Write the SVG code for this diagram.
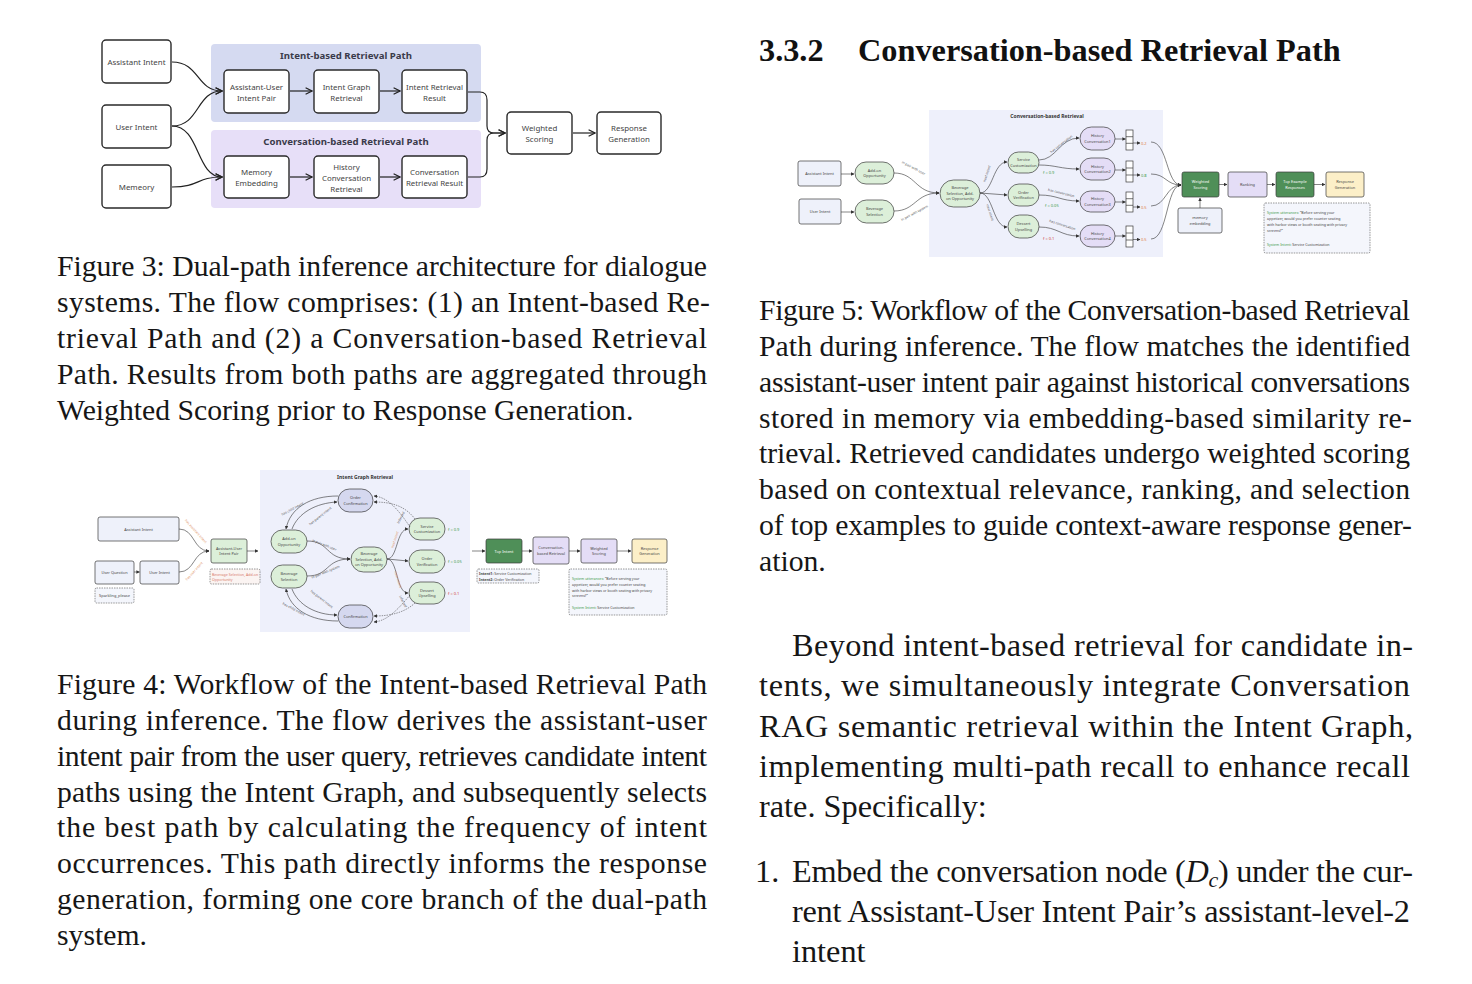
<svg xmlns="http://www.w3.org/2000/svg" width="1472" height="984" viewBox="0 0 1472 984">
<defs>
<style>
.cap{font-family:"Liberation Serif","Times New Roman",serif;font-size:29.7px;fill:#161616}
.body{font-family:"Liberation Serif","Times New Roman",serif;font-size:32.3px;fill:#161616}
.hd{font-family:"Liberation Serif","Times New Roman",serif;font-size:32.3px;font-weight:bold;fill:#111}
.b3{fill:#fff;stroke:#2a2a2a;stroke-width:1.4}
.t3{font-family:"Noto Sans","Open Sans",sans-serif;font-size:7.9px;fill:#444;text-anchor:middle}
.h3{font-family:"Noto Sans","Open Sans",sans-serif;font-size:9.6px;font-weight:bold;fill:#3a3a4a;text-anchor:middle}
.c3{fill:none;stroke:#222;stroke-width:1.2}
.nd{stroke:#3a3a3a;stroke-width:0.7}
.t4{font-family:"Noto Sans","Open Sans",sans-serif;font-size:3.9px;fill:#444;text-anchor:middle}
.tw{font-family:"Noto Sans","Open Sans",sans-serif;font-size:3.9px;fill:#fff;text-anchor:middle}
.h4{font-family:"Noto Sans","Open Sans",sans-serif;font-size:5px;font-weight:bold;fill:#333;text-anchor:middle}
.lb{font-family:"Noto Sans","Open Sans",sans-serif;font-size:3.4px;fill:#555;text-anchor:middle}
.ol{font-family:"Noto Sans","Open Sans",sans-serif;font-size:3.4px;fill:#e09060;text-anchor:middle}
.s4{font-family:"Noto Sans","Open Sans",sans-serif;font-size:3.6px;fill:#444}
.c4{fill:none;stroke:#333;stroke-width:0.6}
.d4{fill:none;stroke:#333;stroke-width:0.5;stroke-dasharray:1.5 1}
.grn{fill:#dcefd9}
.lav{fill:#e4ddf6}
.dgr{fill:#4f8f58}
.crm{fill:#fcefc8}
.lbl{fill:#eef1fa}
.blu{fill:#d5d8ef}
.fg{font-family:"Noto Sans","Open Sans",sans-serif;font-size:4px;fill:#3c9a4a}
.fr{font-family:"Noto Sans","Open Sans",sans-serif;font-size:4px;fill:#d04040}
.fo{font-family:"Noto Sans","Open Sans",sans-serif;font-size:4px;fill:#e07a3a}
</style>
<marker id="a3" viewBox="0 0 10 10" refX="9" refY="5" markerWidth="8" markerHeight="8" orient="auto" markerUnits="userSpaceOnUse"><path d="M1,1 L9,5 L1,9" fill="none" stroke="#222" stroke-width="1.5"/></marker>
<marker id="a4" viewBox="0 0 10 10" refX="9" refY="5" markerWidth="3.5" markerHeight="3.5" orient="auto" markerUnits="userSpaceOnUse"><path d="M0,0 L10,5 L0,10 z" fill="#333"/></marker>
</defs>
<rect width="1472" height="984" fill="#fff"/>

<!-- ================= FIGURE 3 ================= -->
<g id="fig3">
<g id="f3-panel-intent"><rect x="211" y="44" width="270" height="78" rx="4" fill="#d5daf1"/><text class="h3" x="346" y="58.5">Intent-based Retrieval Path</text></g>
<g id="f3-panel-conv"><rect x="211" y="130" width="270" height="78" rx="4" fill="#e7dff8"/><text class="h3" x="346" y="145">Conversation-based Retrieval Path</text></g>
<g id="f3-assistant"><rect class="b3" x="102" y="40" width="69" height="43" rx="4"/><text class="t3" x="136.5" y="64.5">Assistant Intent</text></g>
<g id="f3-user"><rect class="b3" x="102" y="105" width="69" height="43" rx="4"/><text class="t3" x="136.5" y="129.5">User Intent</text></g>
<g id="f3-memory"><rect class="b3" x="102" y="165" width="69" height="43" rx="4"/><text class="t3" x="136.5" y="189.5">Memeory</text></g>
<g id="f3-pair"><rect class="b3" x="224" y="70" width="65" height="43" rx="4"/><text class="t3" x="256.5" y="90">Assistant-User</text><text class="t3" x="256.5" y="100.5">Intent Pair</text></g>
<g id="f3-igr"><rect class="b3" x="314" y="70" width="65" height="43" rx="4"/><text class="t3" x="346.5" y="90">Intent Graph</text><text class="t3" x="346.5" y="100.5">Retrieval</text></g>
<g id="f3-irr"><rect class="b3" x="402" y="70" width="65" height="43" rx="4"/><text class="t3" x="434.5" y="90">Intent Retrieval</text><text class="t3" x="434.5" y="100.5">Result</text></g>
<g id="f3-me"><rect class="b3" x="224" y="156" width="65" height="42" rx="4"/><text class="t3" x="256.5" y="175">Memory</text><text class="t3" x="256.5" y="186">Embedding</text></g>
<g id="f3-hcr"><rect class="b3" x="314" y="156" width="65" height="42" rx="4"/><text class="t3" x="346.5" y="169.5">History</text><text class="t3" x="346.5" y="180.5">Conversation</text><text class="t3" x="346.5" y="191.5">Retrieval</text></g>
<g id="f3-crr"><rect class="b3" x="402" y="156" width="65" height="42" rx="4"/><text class="t3" x="434.5" y="175">Conversation</text><text class="t3" x="434.5" y="186">Retrieval Result</text></g>
<g id="f3-ws"><rect class="b3" x="507" y="112" width="65" height="42" rx="4"/><text class="t3" x="539.5" y="131">Weighted</text><text class="t3" x="539.5" y="142">Scoring</text></g>
<g id="f3-rg"><rect class="b3" x="597" y="112" width="64" height="42" rx="4"/><text class="t3" x="629" y="131">Response</text><text class="t3" x="629" y="142">Generation</text></g>
<g id="f3-connectors">
<path class="c3" marker-end="url(#a3)" d="M172,62 C200,62 196,91 222,91"/>
<path class="c3" marker-end="url(#a3)" d="M172,126 C200,126 196,91 222,91"/>
<path class="c3" marker-end="url(#a3)" d="M172,126 C200,126 196,177 222,177"/>
<path class="c3" marker-end="url(#a3)" d="M172,187 C200,187 196,177 222,177"/>
<path class="c3" marker-end="url(#a3)" d="M290,91 L312,91"/>
<path class="c3" marker-end="url(#a3)" d="M380,91 L400,91"/>
<path class="c3" marker-end="url(#a3)" d="M290,177 L312,177"/>
<path class="c3" marker-end="url(#a3)" d="M380,177 L400,177"/>
<path class="c3" marker-end="url(#a3)" d="M468,92 L480,92 Q487,92 487,100 L487,126 Q487,133 494,133 L505,133"/>
<path class="c3" marker-end="url(#a3)" d="M468,177 L480,177 Q487,177 487,169 L487,140 Q487,133 494,133 L505,133"/>
<path class="c3" marker-end="url(#a3)" d="M573,133 L595,133"/>
</g>
</g>

<!-- ================= FIGURE 4 ================= -->
<g id="fig4">
<g id="f4-panel"><rect x="260" y="470" width="210" height="162" fill="#eef0fb"/><text class="h4" x="365" y="479">Intent Graph Retrieval</text></g>
<g id="f4-ai"><rect class="nd lbl" x="98" y="517" width="81" height="24" rx="2"/><text class="t4" x="138.5" y="530.5">Assistant Intent</text></g>
<g id="f4-uq"><rect class="nd lbl" x="95" y="561" width="39" height="23" rx="2"/><text class="t4" x="114.5" y="574">User Question</text></g>
<g id="f4-ui"><rect class="nd lbl" x="140" y="561" width="39" height="23" rx="2"/><text class="t4" x="159.5" y="574">User Intent</text></g>
<g id="f4-sp"><rect class="d4" x="95" y="588" width="39" height="15" rx="1.5" style="fill:#f4f6fc"/><text class="t4" x="114.5" y="597">Sparkling_please</text></g>
<g id="f4-pair"><rect class="nd grn" x="211" y="539" width="36" height="24" rx="2"/><text class="t4" x="229" y="549.5">Assistant-User</text><text class="t4" x="229" y="555">Intent Pair</text></g>
<g id="f4-cand"><rect class="d4" x="210" y="569" width="50" height="15" rx="1.5" style="fill:#fbf4f2"/><text class="s4" x="212" y="575.5" style="fill:#d87a6a">Beverage Selection, Add-on</text><text class="s4" x="212" y="580.5" style="fill:#d87a6a">Opportunity</text></g>
<g id="f4-oc"><rect class="nd blu" x="338" y="489" width="35" height="23" rx="11.5"/><text class="t4" x="355.5" y="499">Order</text><text class="t4" x="355.5" y="504.5">Confirmation</text></g>
<g id="f4-conf"><rect class="nd blu" x="338" y="605" width="35" height="23" rx="11.5"/><text class="t4" x="355.5" y="617.5">Confirmation</text></g>
<g id="f4-ao"><rect class="nd grn" x="271" y="530" width="36" height="23" rx="11.5"/><text class="t4" x="289" y="540">Add-on</text><text class="t4" x="289" y="545.5">Opportunity</text></g>
<g id="f4-bs"><rect class="nd grn" x="271" y="565" width="36" height="23" rx="11.5"/><text class="t4" x="289" y="575">Beverage</text><text class="t4" x="289" y="580.5">Selection</text></g>
<g id="f4-center"><rect class="nd grn" x="351" y="547" width="36" height="25" rx="12.5"/><text class="t4" x="369" y="555">Beverage</text><text class="t4" x="369" y="560.5">Selection, Add-</text><text class="t4" x="369" y="566">on Opportunity</text></g>
<g id="f4-sc"><rect class="nd grn" x="409" y="518" width="36" height="22" rx="11"/><text class="t4" x="427" y="527.5">Service</text><text class="t4" x="427" y="533">Customization</text></g>
<g id="f4-ov"><rect class="nd grn" x="409" y="550" width="36" height="23" rx="11.5"/><text class="t4" x="427" y="560">Order</text><text class="t4" x="427" y="565.5">Verification</text></g>
<g id="f4-du"><rect class="nd grn" x="409" y="582" width="36" height="22" rx="11"/><text class="t4" x="427" y="591.5">Dessert</text><text class="t4" x="427" y="597">Upselling</text></g>
<text class="fg" x="448" y="531">f = 0.9</text>
<text class="fg" x="448" y="563">f = 0.05</text>
<text class="fr" x="448" y="595">f = 0.1</text>
<g id="f4-top"><rect class="nd dgr" x="486" y="539" width="36" height="24" rx="2"/><text class="tw" x="504" y="552.5">Top Intent</text></g>
<g id="f4-cbr"><rect class="nd lav" x="533" y="537" width="36" height="27" rx="2"/><text class="t4" x="551" y="549">Conversation-</text><text class="t4" x="551" y="554.5">based Retrieval</text></g>
<g id="f4-ws"><rect class="nd lav" x="581" y="539" width="36" height="24" rx="2"/><text class="t4" x="599" y="549.5">Weighted</text><text class="t4" x="599" y="555">Scoring</text></g>
<g id="f4-rg"><rect class="nd crm" x="632" y="539" width="35" height="24" rx="2"/><text class="t4" x="649.5" y="549.5">Response</text><text class="t4" x="649.5" y="555">Generation</text></g>
<g id="f4-intents"><rect class="d4" x="477" y="569" width="62" height="14" rx="1.5" style="fill:#f4f6fc"/><text class="s4" x="479" y="575"><tspan font-weight="bold">Intent1:</tspan> Service Customization</text><text class="s4" x="479" y="580.5"><tspan font-weight="bold">Intent2:</tspan> Order Verification</text></g>
<g id="f4-utt"><rect class="d4" x="569" y="569" width="98" height="46" rx="1.5" style="fill:#f4f6fc"/>
<text class="s4" x="572" y="580"><tspan fill="#3c9a4a">System utterances:</tspan>  “Before serving your</text>
<text class="s4" x="572" y="586">appetizer, would you prefer counter seating</text>
<text class="s4" x="572" y="591.5">with harbor views or booth seating with privacy</text>
<text class="s4" x="572" y="597">screens?”</text>
<text class="s4" x="572" y="609"><tspan fill="#3c9a4a">System  Intent:</tspan>  Service Customization</text></g>
<g id="f4-connectors">
<path class="c4" marker-end="url(#a4)" d="M179,529 C195,529 193,551 209,551"/>
<path class="c4" marker-end="url(#a4)" d="M179,572 C195,572 193,551 209,551"/>
<path class="c4" marker-end="url(#a4)" d="M134,572 L139.5,572"/>
<path class="c4" marker-end="url(#a4)" d="M247,551 L258,551"/>
<path class="c4" marker-end="url(#a4)" d="M307,541 C330,541 325,559 350,559"/>
<path class="c4" marker-end="url(#a4)" d="M307,576 C330,576 325,559 350,559"/>
<path class="c4" marker-end="url(#a4)" d="M387,559 C398,559 396,529 408,529"/>
<path class="c4" marker-end="url(#a4)" d="M387,559 L408,561"/>
<path class="c4" marker-end="url(#a4)" d="M387,559 C398,559 396,593 408,593"/>
<path class="c4" marker-end="url(#a4)" d="M338,496 C310,496 290,508 286,529"/>
<path class="c4" marker-end="url(#a4)" d="M292,529 C298,513 316,503 337,502"/>
<path class="c4" marker-end="url(#a4)" d="M338,621 C310,621 290,609 286,589"/>
<path class="c4" marker-end="url(#a4)" d="M292,589 C298,605 316,615 337,615"/>
<path class="d4" marker-end="url(#a4)" d="M410,527 C396,506 386,497 374,496"/>
<path class="d4" marker-end="url(#a4)" d="M415,519 C405,506 392,502 374,502"/>
<path class="d4" marker-end="url(#a4)" d="M410,595 C396,612 386,621 374,622"/>
<path class="d4" marker-end="url(#a4)" d="M415,603 C405,612 392,616 374,616"/>
<path class="c4" marker-end="url(#a4)" d="M472,551 L485,551"/>
<path class="c4" marker-end="url(#a4)" d="M522,551 L532,551"/>
<path class="c4" marker-end="url(#a4)" d="M569,551 L580,551"/>
<path class="c4" marker-end="url(#a4)" d="M617,551 L631,551"/>
<text class="ol" transform="translate(195,532) rotate(48)">has assistant intent</text>
<text class="ol" transform="translate(195,572) rotate(-48)">has user intent</text>
<text class="lb" transform="translate(324,546) rotate(22)">in pair with user</text>
<text class="lb" transform="translate(326,573) rotate(-22)">in pair with system</text>
<text class="ol" transform="translate(396,540) rotate(-72)">next intent</text>
<text class="ol" transform="translate(397,580) rotate(72)">next intent</text>
<text class="lb" transform="translate(293,510) rotate(-28)">has child intent</text>
<text class="lb" transform="translate(321,517) rotate(-38)">has parent intent</text>
<text class="lb" transform="translate(293,610) rotate(28)">has child intent</text>
<text class="lb" transform="translate(321,600) rotate(38)">has parent intent</text>
<text class="lb" transform="translate(402,518) rotate(-62)">inferred</text>
<text class="lb" transform="translate(402,602) rotate(62)">inferred</text>
</g>
</g>

<!-- ================= FIGURE 5 ================= -->
<g id="fig5">
<g id="f5-panel"><rect x="929" y="110" width="234" height="147" fill="#eef0fb"/><text class="h4" x="1047" y="118">Conversation-based Retrieval</text></g>
<g id="f5-ai"><rect class="nd lbl" x="798" y="161" width="43" height="25" rx="2"/><text class="t4" x="819.5" y="175">Assistant Intent</text></g>
<g id="f5-ui"><rect class="nd lbl" x="799" y="199" width="42" height="25" rx="2"/><text class="t4" x="820" y="213">User Intent</text></g>
<g id="f5-ao"><rect class="nd grn" x="855" y="162" width="39" height="22" rx="11"/><text class="t4" x="874.5" y="171.5">Add-on</text><text class="t4" x="874.5" y="177">Opportunity</text></g>
<g id="f5-bs"><rect class="nd grn" x="855" y="200" width="39" height="23" rx="11.5"/><text class="t4" x="874.5" y="210">Beverage</text><text class="t4" x="874.5" y="215.5">Selection</text></g>
<g id="f5-center"><rect class="nd grn" x="940" y="180" width="40" height="27" rx="13.5"/><text class="t4" x="960" y="189">Beverage</text><text class="t4" x="960" y="194.5">Selection, Add-</text><text class="t4" x="960" y="200">on Opportunity</text></g>
<g id="f5-sc"><rect class="nd grn" x="1008" y="152" width="31" height="21" rx="10.5"/><text class="t4" x="1023.5" y="161">Service</text><text class="t4" x="1023.5" y="166.5">Customization</text></g>
<g id="f5-ov"><rect class="nd grn" x="1008" y="184" width="31" height="22" rx="11"/><text class="t4" x="1023.5" y="193.5">Order</text><text class="t4" x="1023.5" y="199">Verification</text></g>
<g id="f5-du"><rect class="nd grn" x="1008" y="215" width="31" height="23" rx="11.5"/><text class="t4" x="1023.5" y="225">Dessert</text><text class="t4" x="1023.5" y="230.5">Upselling</text></g>
<text class="fg" x="1043" y="173.5">f = 0.9</text>
<text class="fg" x="1045" y="206.5">f = 0.05</text>
<text class="fr" x="1043" y="240">f = 0.1</text>
<g id="f5-hc1"><rect class="nd lav" x="1080" y="127" width="35" height="23" rx="11.5"/><text class="t4" x="1097.5" y="137">History</text><text class="t4" x="1097.5" y="142.5">Conversation1</text></g>
<g id="f5-hc2"><rect class="nd lav" x="1080" y="158" width="35" height="22" rx="11"/><text class="t4" x="1097.5" y="167.5">History</text><text class="t4" x="1097.5" y="173">Conversation2</text></g>
<g id="f5-hc3"><rect class="nd lav" x="1080" y="191" width="35" height="21" rx="10.5"/><text class="t4" x="1097.5" y="200">History</text><text class="t4" x="1097.5" y="205.5">Conversation3</text></g>
<g id="f5-hc4"><rect class="nd lav" x="1080" y="225" width="35" height="22" rx="11"/><text class="t4" x="1097.5" y="234.5">History</text><text class="t4" x="1097.5" y="240">Conversation4</text></g>
<g id="f5-vec1"><rect x="1126" y="130" width="7" height="20" fill="#fff" class="nd"/><path class="nd" d="M1126,136.7 H1133 M1126,143.3 H1133" fill="none"/></g>
<g id="f5-vec2"><rect x="1126" y="161" width="7" height="21" fill="#fff" class="nd"/><path class="nd" d="M1126,168 H1133 M1126,175 H1133" fill="none"/></g>
<g id="f5-vec3"><rect x="1126" y="192" width="7" height="20" fill="#fff" class="nd"/><path class="nd" d="M1126,198.7 H1133 M1126,205.3 H1133" fill="none"/></g>
<g id="f5-vec4"><rect x="1126" y="226" width="7" height="21" fill="#fff" class="nd"/><path class="nd" d="M1126,233 H1133 M1126,240 H1133" fill="none"/></g>
<text class="fo" x="1141" y="144.5">0.2</text>
<text class="fg" x="1141" y="176.5">0.8</text>
<text class="fo" x="1141" y="208.5">0.5</text>
<text class="fo" x="1141" y="241">0.5</text>
<g id="f5-ws"><rect class="nd dgr" x="1182" y="172" width="37" height="25" rx="2"/><text class="tw" x="1200.5" y="183">Weighted</text><text class="tw" x="1200.5" y="188.5">Scoring</text></g>
<g id="f5-rank"><rect class="nd lav" x="1228" y="172" width="39" height="25" rx="2"/><text class="t4" x="1247.5" y="186">Ranking</text></g>
<g id="f5-top"><rect class="nd dgr" x="1276" y="172" width="38" height="25" rx="2"/><text class="tw" x="1295" y="183">Top  Example</text><text class="tw" x="1295" y="188.5">Responses</text></g>
<g id="f5-rg"><rect class="nd crm" x="1326" y="172" width="38" height="25" rx="2"/><text class="t4" x="1345" y="183">Response</text><text class="t4" x="1345" y="188.5">Generation</text></g>
<g id="f5-mem"><rect class="nd lbl" x="1178" y="208" width="44" height="25" rx="2"/><text class="t4" x="1200" y="219">memory</text><text class="t4" x="1200" y="224.5">embedding</text></g>
<g id="f5-utt"><rect class="d4" x="1264" y="203" width="106" height="50" rx="1.5" style="fill:#f4f6fc"/>
<text class="s4" x="1267" y="213.5"><tspan fill="#3c9a4a">System utterances:</tspan>  “Before serving your</text>
<text class="s4" x="1267" y="219.5">appetizer, would you prefer counter seating</text>
<text class="s4" x="1267" y="226">with harbor views or booth seating with privacy</text>
<text class="s4" x="1267" y="232">screens?”</text>
<text class="s4" x="1267" y="246"><tspan fill="#3c9a4a">System  Intent:</tspan>  Service Customization</text></g>
<g id="f5-connectors">
<path class="c4" marker-end="url(#a4)" d="M841,174 L854,174"/>
<path class="c4" marker-end="url(#a4)" d="M841,212 L854,212"/>
<path class="c4" marker-end="url(#a4)" d="M894,173 C916,173 915,193 939,193"/>
<path class="c4" marker-end="url(#a4)" d="M894,211 C916,211 915,193 939,193"/>
<path class="c4" marker-end="url(#a4)" d="M980,193 C993,193 993,162 1007,162"/>
<path class="c4" marker-end="url(#a4)" d="M980,193 L1007,195"/>
<path class="c4" marker-end="url(#a4)" d="M980,193 C993,193 993,227 1007,227"/>
<path class="c4" marker-end="url(#a4)" d="M1039,160 C1056,160 1060,138 1079,138"/>
<path class="c4" marker-end="url(#a4)" d="M1039,165 C1056,165 1060,169 1079,169"/>
<path class="c4" marker-end="url(#a4)" d="M1039,195 C1058,195 1060,201 1079,201"/>
<path class="c4" marker-end="url(#a4)" d="M1039,227 C1058,227 1060,236 1079,236"/>
<path class="c4" marker-end="url(#a4)" d="M1115,139 L1125.5,139"/>
<path class="c4" marker-end="url(#a4)" d="M1115,170 L1125.5,170"/>
<path class="c4" marker-end="url(#a4)" d="M1115,202 L1125.5,202"/>
<path class="c4" marker-end="url(#a4)" d="M1115,236 L1125.5,236"/>
<path class="c4" marker-end="url(#a4)" d="M1133,143 L1140,143"/>
<path class="c4" marker-end="url(#a4)" d="M1133,175 L1140,175"/>
<path class="c4" marker-end="url(#a4)" d="M1133,207 L1140,207"/>
<path class="c4" marker-end="url(#a4)" d="M1133,239.5 L1140,239.5"/>
<path class="c4" marker-end="url(#a4)" d="M1151,142 C1168,142 1166,185 1181,185"/>
<path class="c4" marker-end="url(#a4)" d="M1151,174 C1166,174 1166,185 1181,185"/>
<path class="c4" marker-end="url(#a4)" d="M1151,206 C1166,206 1166,185 1181,185"/>
<path class="c4" marker-end="url(#a4)" d="M1151,239 C1168,239 1166,185 1181,185"/>
<path class="c4" marker-end="url(#a4)" d="M1219,184.5 L1227,184.5"/>
<path class="c4" marker-end="url(#a4)" d="M1267,184.5 L1275,184.5"/>
<path class="c4" marker-end="url(#a4)" d="M1314,184.5 L1325,184.5"/>
<path class="c4" marker-end="url(#a4)" d="M1200,208 L1200,198"/>
<text class="lb" transform="translate(913,169) rotate(28)">in pair with user</text>
<text class="lb" transform="translate(915,214) rotate(-28)">in pair with system</text>
<text class="lb" transform="translate(988,174) rotate(-72)">next intent</text>
<text class="lb" transform="translate(989,213) rotate(72)">next intent</text>
<text class="lb" transform="translate(1062,145) rotate(-38)">has conversation</text>
<text class="lb" transform="translate(1061,194) rotate(14)">has conversation</text>
<text class="lb" transform="translate(1062,226) rotate(18)">has conversation</text>
</g>
</g>

<!-- ================= TEXT ================= -->
<g id="captions-left">
<text class="cap" x="57" y="276" textLength="650" lengthAdjust="spacing">Figure 3: Dual-path inference architecture for dialogue</text>
<text class="cap" x="57" y="312" textLength="653" lengthAdjust="spacing">systems. The flow comprises: (1) an Intent-based Re-</text>
<text class="cap" x="57" y="348" textLength="650" lengthAdjust="spacing">trieval Path and (2) a Conversation-based Retrieval</text>
<text class="cap" x="57" y="384" textLength="650" lengthAdjust="spacing">Path. Results from both paths are aggregated through</text>
<text class="cap" x="57" y="420">Weighted Scoring prior to Response Generation.</text>

<text class="cap" x="57" y="694" textLength="650" lengthAdjust="spacing">Figure 4: Workflow of the Intent-based Retrieval Path</text>
<text class="cap" x="57" y="730" textLength="650" lengthAdjust="spacing">during inference.  The flow derives the assistant-user</text>
<text class="cap" x="57" y="766" textLength="650" lengthAdjust="spacing">intent pair from the user query, retrieves candidate intent</text>
<text class="cap" x="57" y="802" textLength="650" lengthAdjust="spacing">paths using the Intent Graph, and subsequently selects</text>
<text class="cap" x="57" y="837" textLength="650" lengthAdjust="spacing">the best path by calculating the frequency of intent</text>
<text class="cap" x="57" y="873" textLength="650" lengthAdjust="spacing">occurrences.  This path directly informs the response</text>
<text class="cap" x="57" y="909" textLength="650" lengthAdjust="spacing">generation, forming one core branch of the dual-path</text>
<text class="cap" x="57" y="945">system.</text>
</g>

<g id="right-column">
<text class="hd" x="759" y="61">3.3.2</text>
<text class="hd" x="858" y="61">Conversation-based Retrieval Path</text>

<text class="cap" x="759" y="320" textLength="651" lengthAdjust="spacing">Figure 5: Workflow of the Conversation-based Retrieval</text>
<text class="cap" x="759" y="356" textLength="651" lengthAdjust="spacing">Path during inference. The flow matches the identified</text>
<text class="cap" x="759" y="392" textLength="651" lengthAdjust="spacing">assistant-user intent pair against historical conversations</text>
<text class="cap" x="759" y="428" textLength="653" lengthAdjust="spacing">stored in memory via embedding-based similarity re-</text>
<text class="cap" x="759" y="463" textLength="651" lengthAdjust="spacing">trieval. Retrieved candidates undergo weighted scoring</text>
<text class="cap" x="759" y="499" textLength="651" lengthAdjust="spacing">based on contextual relevance, ranking, and selection</text>
<text class="cap" x="759" y="535" textLength="653" lengthAdjust="spacing">of top examples to guide context-aware response gener-</text>
<text class="cap" x="759" y="571">ation.</text>

<text class="body" x="792" y="656" textLength="621" lengthAdjust="spacing">Beyond intent-based retrieval for candidate in-</text>
<text class="body" x="759" y="696" textLength="651" lengthAdjust="spacing">tents, we simultaneously integrate Conversation</text>
<text class="body" x="759" y="737" textLength="654" lengthAdjust="spacing">RAG semantic retrieval within the Intent Graph,</text>
<text class="body" x="759" y="777" textLength="651" lengthAdjust="spacing">implementing multi-path recall to enhance recall</text>
<text class="body" x="759" y="817">rate. Specifically:</text>

<text class="body" x="755" y="882">1.</text>
<text class="body" x="792" y="882" textLength="621" lengthAdjust="spacing">Embed the conversation node (<tspan font-style="italic">D</tspan><tspan font-style="italic" font-size="22px" dy="5">c</tspan><tspan dy="-5">) under the cur-</tspan></text>
<text class="body" x="792" y="922" textLength="618" lengthAdjust="spacing">rent Assistant-User Intent Pair’s assistant-level-2</text>
<text class="body" x="792" y="962">intent</text>
</g>
</svg>
